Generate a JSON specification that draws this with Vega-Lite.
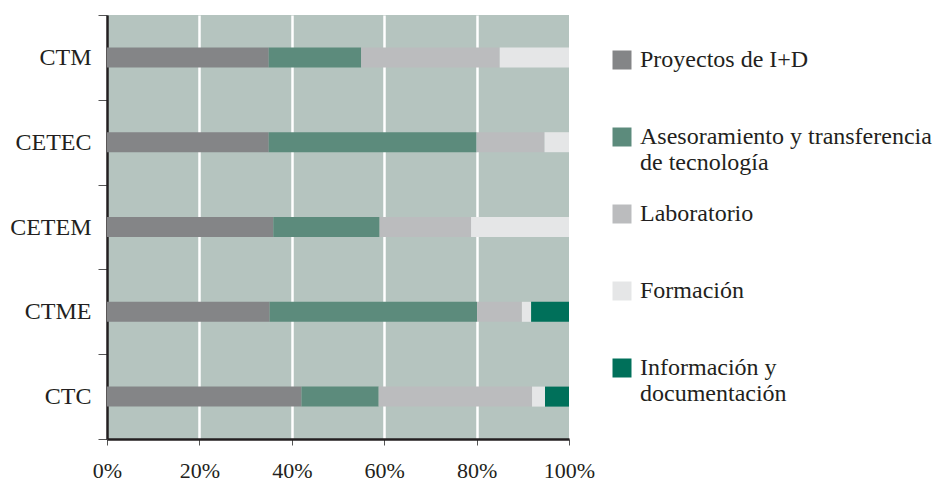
{
  "$schema": "https://vega.github.io/schema/vega-lite/v6.json",
  "width": 462,
  "height": 424,
  "autosize": {"type": "none"},
  "padding": {"left": 107, "top": 15, "right": 364, "bottom": 44},
  "background": "white",
  "config": {
    "view": {"fill": "#b5c4bf", "stroke": null},
    "font": "Liberation Serif"
  },
  "data": {
    "values": [
      {"centro": "CTM", "actividad": "Proyectos de I+D", "k": 1, "pct": 35},
      {"centro": "CTM", "actividad": "Asesoramiento y transferencia de tecnología", "k": 2, "pct": 20},
      {"centro": "CTM", "actividad": "Laboratorio", "k": 3, "pct": 30},
      {"centro": "CTM", "actividad": "Formación", "k": 4, "pct": 15},
      {"centro": "CTM", "actividad": "Información y documentación", "k": 5, "pct": 0},
      {"centro": "CETEC", "actividad": "Proyectos de I+D", "k": 1, "pct": 35},
      {"centro": "CETEC", "actividad": "Asesoramiento y transferencia de tecnología", "k": 2, "pct": 45},
      {"centro": "CETEC", "actividad": "Laboratorio", "k": 3, "pct": 14.7},
      {"centro": "CETEC", "actividad": "Formación", "k": 4, "pct": 5.3},
      {"centro": "CETEC", "actividad": "Información y documentación", "k": 5, "pct": 0},
      {"centro": "CETEM", "actividad": "Proyectos de I+D", "k": 1, "pct": 36},
      {"centro": "CETEM", "actividad": "Asesoramiento y transferencia de tecnología", "k": 2, "pct": 23},
      {"centro": "CETEM", "actividad": "Laboratorio", "k": 3, "pct": 19.8},
      {"centro": "CETEM", "actividad": "Formación", "k": 4, "pct": 21.2},
      {"centro": "CETEM", "actividad": "Información y documentación", "k": 5, "pct": 0},
      {"centro": "CTME", "actividad": "Proyectos de I+D", "k": 1, "pct": 35.2},
      {"centro": "CTME", "actividad": "Asesoramiento y transferencia de tecnología", "k": 2, "pct": 44.9},
      {"centro": "CTME", "actividad": "Laboratorio", "k": 3, "pct": 9.7},
      {"centro": "CTME", "actividad": "Formación", "k": 4, "pct": 2},
      {"centro": "CTME", "actividad": "Información y documentación", "k": 5, "pct": 8.2},
      {"centro": "CTC", "actividad": "Proyectos de I+D", "k": 1, "pct": 42.1},
      {"centro": "CTC", "actividad": "Asesoramiento y transferencia de tecnología", "k": 2, "pct": 16.7},
      {"centro": "CTC", "actividad": "Laboratorio", "k": 3, "pct": 33.2},
      {"centro": "CTC", "actividad": "Formación", "k": 4, "pct": 2.8},
      {"centro": "CTC", "actividad": "Información y documentación", "k": 5, "pct": 5.2}
    ]
  },
  "mark": {"type": "bar", "size": 20},
  "encoding": {
    "y": {
      "field": "centro",
      "type": "nominal",
      "sort": ["CTM", "CETEC", "CETEM", "CTME", "CTC"],
      "scale": {"paddingInner": 0, "paddingOuter": 0},
      "axis": {
        "title": null,
        "tickBand": "extent",
        "domainColor": "#231f20",
        "domainWidth": 2.5,
        "tickColor": "#555",
        "tickSize": 9,
        "tickWidth": 1,
        "labelFont": "Liberation Serif",
        "labelFontSize": 24,
        "labelColor": "#231f20",
        "labelPadding": 7
      }
    },
    "x": {
      "field": "pct",
      "type": "quantitative",
      "stack": "normalize",
      "scale": {"domain": [0, 1], "nice": false},
      "axis": {
        "title": null,
        "format": ".0%",
        "values": [0, 0.2, 0.4, 0.6, 0.8, 1],
        "labelFlush": false,
        "grid": true,
        "gridColor": "white",
        "gridWidth": 2.5,
        "gridOpacity": {"condition": {"test": "datum.value == 0 || datum.value == 1", "value": 0}, "value": 1},
        "domainColor": "#231f20",
        "domainWidth": 2.5,
        "tickColor": "#555",
        "tickSize": 6,
        "tickWidth": 1,
        "labelFont": "Liberation Serif",
        "labelFontSize": 22,
        "labelColor": "#231f20",
        "labelPadding": 15
      }
    },
    "color": {
      "field": "actividad",
      "type": "nominal",
      "sort": ["Proyectos de I+D", "Asesoramiento y transferencia de tecnología", "Laboratorio", "Formación", "Información y documentación"],
      "scale": {
        "domain": ["Proyectos de I+D", "Asesoramiento y transferencia de tecnología", "Laboratorio", "Formación", "Información y documentación"],
        "range": ["#848587", "#5c8b7c", "#bbbcbe", "#e5e6e7", "#00705a"]
      },
      "legend": {
        "title": null,
        "orient": "none",
        "legendX": 503,
        "legendY": 33,
        "padding": 0,
        "symbolType": "square",
        "symbolSize": 361,
        "symbolStrokeWidth": 0,
        "symbolOpacity": 1,
        "labelFont": "Liberation Serif",
        "labelFontSize": 24,
        "labelColor": "#231f20",
        "labelLimit": 400,
        "labelOffset": 6,
        "gridAlign": "all",
        "rowPadding": 27,
        "labelExpr": "datum.label == 'Asesoramiento y transferencia de tecnología' ? ['Asesoramiento y transferencia', 'de tecnología'] : datum.label == 'Información y documentación' ? ['Información y', 'documentación'] : datum.label"
      }
    },
    "order": {"field": "k", "type": "quantitative"}
  }
}
